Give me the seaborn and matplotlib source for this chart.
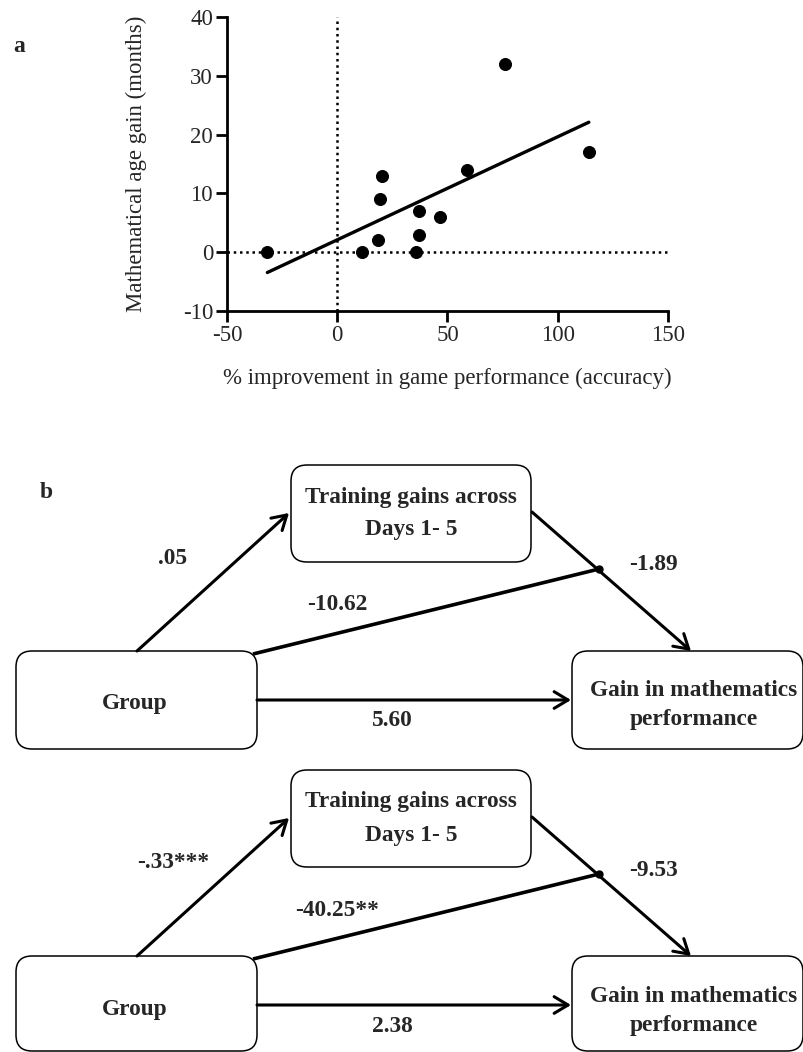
import seaborn as sns
import matplotlib.pyplot as plt
import pandas as pd
from matplotlib.patches import FancyBboxPatch

# panel a data: % improvement vs mathematical age gain
improvement = [-31.7, 11.4, 18.6, 19.5, 20.3, 35.9, 36.9, 36.9, 46.8, 59.0, 75.9, 114.1]
age_gain = [0, 0, 2, 9, 13, 0, 3, 7, 6, 14, 32, 17]

x_ticks = [-50, 0, 50, 100, 150]
y_ticks = [-10, 0, 10, 20, 30, 40]

# panel b path coefficients (top model, bottom model)
coef_a = [".05", "-.33***"]
coef_b = ["-1.89", "-9.53"]
coef_mod = ["-10.62", "-40.25**"]
coef_direct = ["5.60", "2.38"]

node_labels = ["Group", "Training gains across\nDays 1- 5", "Gain in mathematics\nperformance"]

df = pd.DataFrame({"improvement": improvement, "gain": age_gain})

sns.set_style("white")
plt.rcParams["font.family"] = ["Liberation Serif", "DejaVu Serif"]
plt.rcParams["axes.unicode_minus"] = False

fig = plt.figure(figsize=(8.04, 10.52), dpi=100)

# full figure axes in pixel units for the diagrams
dg = fig.add_axes([0, 0, 1, 1])
dg.set_xlim(0, 804)
dg.set_ylim(1052, 0)
dg.axis("off")
dg.patch.set_alpha(0)

# scatter panel
ax = fig.add_axes([227 / 804, 1 - 311 / 1052, 441 / 804, 294 / 1052])
ax.axhline(0, color="black", ls=(0, (1, 1.5)), lw=1.8, zorder=1)
ax.axvline(0, color="black", ls=(0, (1, 1.5)), lw=1.8, zorder=1)
sns.regplot(data=df, x="improvement", y="gain", scatter=False, ci=None,
            color="black", line_kws={"lw": 2.4}, ax=ax)
sns.scatterplot(data=df, x="improvement", y="gain", color="black",
                s=75, edgecolor="black", zorder=3, ax=ax)
ax.set_xlim(-50, 150)
ax.set_ylim(-10, 40)
ax.set_xticks(x_ticks)
ax.set_yticks(y_ticks)
sns.despine(ax=ax)
for s in ["left", "bottom"]:
    ax.spines[s].set_linewidth(2)
    ax.spines[s].set_color("black")
ax.tick_params(direction="out", length=8, width=2, labelsize=16.5, color="black",
               left=True, bottom=True, pad=2)
ax.set_xlabel("% improvement in game performance (accuracy)", fontsize=16.5, labelpad=16)
ax.set_ylabel("Mathematical age gain (months)", fontsize=16.5, labelpad=26)
ax.patch.set_alpha(0)

dg.text(19, 47, "a", fontsize=17, fontweight="bold", ha="center", va="center")
dg.text(46, 493, "b", fontsize=17, fontweight="bold", ha="center", va="center")


def box(x0, y0, x1, y1):
    p = FancyBboxPatch((x0, y0), x1 - x0, y1 - y0,
                       boxstyle="round,pad=0,rounding_size=16",
                       fc="white", ec="black", lw=1.1, zorder=2)
    dg.add_patch(p)


def arrow(p0, p1):
    dg.annotate("", xy=p1, xytext=p0,
                arrowprops=dict(arrowstyle="->,head_length=0.5,head_width=0.3",
                                lw=2.2, color="black", shrinkA=0, shrinkB=0,
                                mutation_scale=20), zorder=3)


tfont = dict(fontsize=16.8, fontweight="bold", ha="center", va="center", zorder=4)

for i, dy in enumerate([0, 305]):
    # boxes
    box(291, 465 + dy, 531, 562 + dy)
    box(16, 651 + dy, 257, 749 + dy if i == 0 else 1051)
    box(572, 651 + dy, 803, 749 + dy if i == 0 else 1051)

    # node labels
    dg.text(411, 497 + dy, node_labels[1].split("\n")[0], **tfont)
    dg.text(411, 530 + dy, node_labels[1].split("\n")[1], **tfont)
    dg.text(135, 704 + dy, node_labels[0], **tfont)
    dg.text(694, 691 + dy, node_labels[2].split("\n")[0], **tfont)
    dg.text(694, 720 + dy, node_labels[2].split("\n")[1], **tfont)

    # paths
    arrow((137, 651 + dy), (289, 513 + dy))
    arrow((532, 512 + dy), (691, 651 + dy))
    arrow((257, 700 + dy), (571, 700 + dy))
    dg.plot([253, 599], [654 + dy, 569 + dy], color="black", lw=2.6,
            solid_capstyle="butt", zorder=3)
    dg.plot([599], [569 + dy], "o", color="black", ms=5, zorder=4)

    # coefficients
    dg.text(173, 558 + dy, coef_a[i], **tfont)
    dg.text(654, 565 + dy, coef_b[i], **tfont)
    dg.text(337, 605 + dy, coef_mod[i], **tfont)
    dg.text(392, 721 + dy, coef_direct[i], **tfont)

fig.savefig("out.png", dpi=100)
